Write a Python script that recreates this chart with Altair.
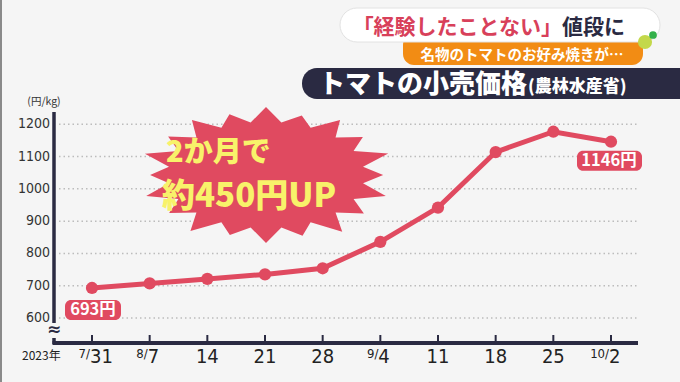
import math
import altair as alt
import pandas as pd

# ---------------- data ----------------
week_index = list(range(10))
month_prefix = ["7/", "8/", "", "", "", "9/", "", "", "", "10/"]
day_labels = ["31", "7", "14", "21", "28", "4", "11", "18", "25", "2"]
prices = [693, 707, 721, 735, 754, 836, 942, 1114, 1177, 1146]
y_ticks = [600, 700, 800, 900, 1000, 1100, 1200]
labelled_weeks = [0, 9]

# ---------------- style ----------------
W, H = 680, 382
BG = "#f5f5f5"
RED = "#e04a60"
NAVY = "#2a2a42"
JP = "Noto Sans CJK JP"
NARROW = "Liberation Sans Narrow, DejaVu Sans Condensed, sans-serif"

X_DOMAIN = [-1.5954, 10.1965]
Y_DOMAIN = [401.7, 1585.1]

df = pd.DataFrame({"i": week_index, "prefix": month_prefix,
                   "day": day_labels, "price": prices})
grid_df = pd.DataFrame({"v": y_ticks})
one = pd.DataFrame({"a": [0]})

xs = alt.Scale(domain=X_DOMAIN, nice=False, zero=False)
ys = alt.Scale(domain=Y_DOMAIN, nice=False, zero=False)
X = alt.X("i:Q", scale=xs, axis=None)
Y = alt.Y("price:Q", scale=ys, axis=None)
YV = alt.Y("v:Q", scale=ys, axis=None)

base = alt.Chart(df)
deco = alt.Chart(one)

# starburst path (normalised to [-1, 1])
n_spikes = 20
outer = [1.0, 0.92, 1.0, 0.95, 1.02, 0.93, 1.0, 0.96, 1.03, 0.94,
         1.0, 0.93, 1.02, 0.95, 1.0, 0.92, 1.01, 0.96, 1.0, 0.94]
ry = 68 / 126
pts = []
for k in range(n_spikes):
    a = 2 * math.pi * k / n_spikes - math.pi / 2
    pts.append((math.cos(a) * outer[k], math.sin(a) * outer[k] * ry))
    a2 = a + math.pi / n_spikes
    pts.append((math.cos(a2) * 0.78, math.sin(a2) * 0.78 * ry))
burst_path = "M" + " L".join(f"{x:.3f},{y:.3f}" for x, y in pts) + " Z"

layers = []

# left frame edge
layers.append(deco.mark_rule(color="#8a8a8a", strokeWidth=2).encode(
    x=alt.value(1), y=alt.value(0), y2=alt.value(H)))

# grid lines
layers.append(alt.Chart(grid_df).mark_rule(
    strokeDash=[1.5, 3], color="#bcbcbc", strokeWidth=1.5).encode(
    y=YV, x=alt.value(59), x2=alt.value(638)))

# y labels
layers.append(alt.Chart(grid_df).mark_text(
    align="right", baseline="middle", font=NARROW, fontSize=14, color="#333333").encode(
    y=YV, x=alt.value(50), text=alt.Text("v:Q", format="d")))

# unit
layers.append(deco.mark_text(text="(円/kg)", font=JP, fontSize=10.5, color="#333333",
                             align="center", baseline="alphabetic").encode(
    x=alt.value(44), y=alt.value(105)))

# axes
layers.append(deco.mark_rule(color=NAVY, strokeWidth=3.5).encode(
    x=alt.value(54), y=alt.value(112), y2=alt.value(344)))
layers.append(deco.mark_rule(color=NAVY, strokeWidth=4).encode(
    x=alt.value(52.5), x2=alt.value(638), y=alt.value(343)))
layers.append(base.mark_rule(color=NAVY, strokeWidth=2).encode(
    x=X, y=alt.value(335), y2=alt.value(343)))

# axis break
layers.append(deco.mark_rect(color=BG).encode(
    x=alt.value(48), x2=alt.value(61), y=alt.value(323), y2=alt.value(338)))
layers.append(deco.mark_text(text="≈", font="DejaVu Sans", fontSize=17, fontWeight="bold",
                             color=NAVY, align="center", baseline="middle").encode(
    x=alt.value(54), y=alt.value(330)))

# x labels
layers.append(base.mark_text(font=NARROW, fontSize=20, color="#222222",
                             align="center", baseline="alphabetic").encode(
    x=X, y=alt.value(363), text="day:N").transform_filter("datum.prefix == ''"))
layers.append(base.mark_text(font=NARROW, fontSize=20, color="#222222",
                             align="left", dx=-2, baseline="alphabetic").encode(
    x=X, y=alt.value(363), text="day:N").transform_filter("datum.prefix != ''"))
layers.append(base.mark_text(font=NARROW, fontSize=13, color="#222222",
                             align="right", dx=-2, baseline="alphabetic").encode(
    x=X, y=alt.value(358), text="prefix:N").transform_filter("datum.prefix != ''"))
layers.append(deco.mark_text(text="2023年", font=JP, fontSize=12, color="#222222",
                             align="left", baseline="alphabetic").encode(
    x=alt.value(22), y=alt.value(360)))

# starburst annotation
layers.append(deco.mark_point(shape=burst_path, filled=True, color=RED, opacity=1,
                              size=252 * 252, strokeWidth=0).encode(
    x=alt.value(266), y=alt.value(175)))
layers.append(deco.mark_text(text="2か月で", font=JP, fontSize=29, fontWeight=900,
                             color="#f8f26a", align="left", baseline="alphabetic").encode(
    x=alt.value(166), y=alt.value(162)))
layers.append(deco.mark_text(text="約450円UP", font=JP, fontSize=33, fontWeight=900,
                             color="#f8f26a", align="left", baseline="alphabetic").encode(
    x=alt.value(162), y=alt.value(207)))

# data line and points
layers.append(base.mark_line(color=RED, strokeWidth=5).encode(x=X, y=Y))
layers.append(base.mark_circle(color=RED, size=150, opacity=1).encode(x=X, y=Y))

# value labels
label_style = {0: dict(x0=-27, x1=29, dy=22, dx=1), 9: dict(x0=-34, x1=31, dy=19, dx=-2)}
for wk in labelled_weeks:
    st = label_style[wk]
    sub = base.transform_filter(f"datum.i == {wk}").transform_calculate(
        label="datum.price + '円'")
    layers.append(sub.mark_rect(color=RED, cornerRadius=6,
                                xOffset=st["x0"], x2Offset=st["x1"],
                                yOffset=st["dy"] - 10, y2Offset=st["dy"] + 10).encode(
        x=X, x2="i:Q", y=Y, y2="price:Q"))
    layers.append(sub.mark_text(font=JP, fontSize=16.5, fontWeight="bold", color="white",
                                align="center", baseline="middle",
                                dx=st["dx"], dy=st["dy"]).encode(
        x=X, y=Y, text="label:N"))

# header banners
layers.append(deco.mark_rect(color="#f28c14", cornerRadius=11).encode(
    x=alt.value(403), x2=alt.value(643), y=alt.value(34), y2=alt.value(65)))
layers.append(deco.mark_rect(color="white", cornerRadius=17, stroke="#e2e2e2",
                             strokeWidth=1).encode(
    x=alt.value(340), x2=alt.value(660), y=alt.value(8), y2=alt.value(42)))
layers.append(deco.mark_text(text="「経験したことない」", font=JP, fontSize=21, fontWeight="bold",
                             color="#d8405a", align="right", baseline="alphabetic").encode(
    x=alt.value(562), y=alt.value(34)))
layers.append(deco.mark_text(text="値段に", font=JP, fontSize=21, fontWeight="bold",
                             color=NAVY, align="left", baseline="alphabetic").encode(
    x=alt.value(562), y=alt.value(34)))
layers.append(deco.mark_text(text="名物のトマトのお好み焼きが…", font=JP, fontSize=14.5,
                             fontWeight="bold", color="white", align="center",
                             baseline="alphabetic").encode(
    x=alt.value(522), y=alt.value(60)))
layers.append(deco.mark_circle(color="#c3d84a", size=200, opacity=1).encode(
    x=alt.value(645), y=alt.value(42)))
layers.append(deco.mark_circle(color="#33b04a", size=60, opacity=1).encode(
    x=alt.value(653), y=alt.value(35)))
layers.append(deco.mark_rect(color=NAVY, cornerRadius=15).encode(
    x=alt.value(302), x2=alt.value(700), y=alt.value(68), y2=alt.value(99)))
layers.append(deco.mark_text(text="トマトの小売価格", font=JP, fontSize=26, fontWeight=900,
                             color="white", align="right", baseline="alphabetic").encode(
    x=alt.value(527), y=alt.value(93)))
layers.append(deco.mark_text(text="(農林水産省)", font=JP, fontSize=17, fontWeight=900,
                             color="white", align="left", baseline="alphabetic").encode(
    x=alt.value(528), y=alt.value(92)))

chart = alt.layer(*layers).properties(
    width=W, height=H,
    autosize=alt.AutoSizeParams(type="none"),
    padding=0,
    background=BG,
).configure_view(stroke=None)

chart.save("out.html", embed_options={"renderer": "svg", "actions": False})
